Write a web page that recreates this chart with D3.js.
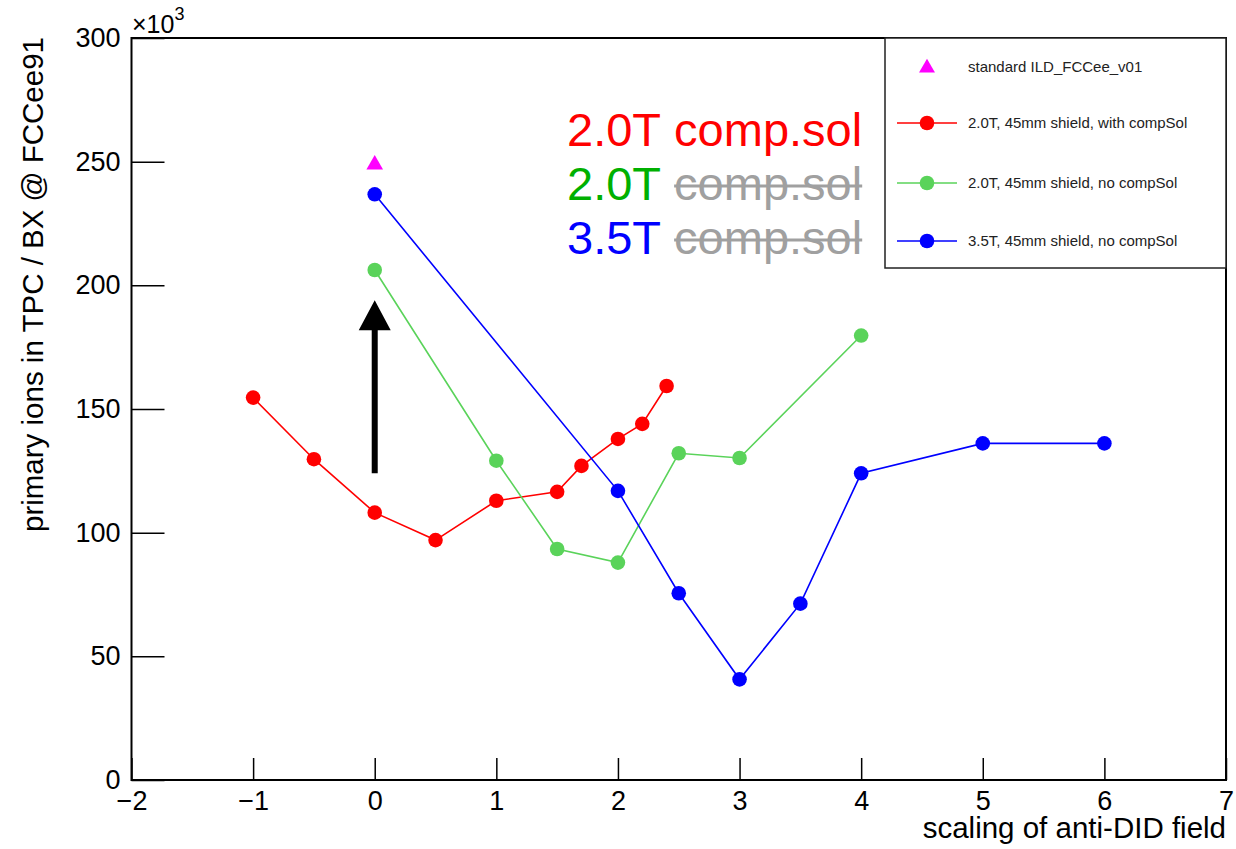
<!DOCTYPE html>
<html>
<head>
<meta charset="utf-8">
<script src="https://cdn.jsdelivr.net/npm/d3@7"></script>
<style>
  html, body { margin: 0; padding: 0; background: #fff; }
  svg text { font-family: "Liberation Sans", Arial, Helvetica, sans-serif; }
</style>
</head>
<body>
<svg id="chart" width="1236" height="849"></svg>
<script>
// ---------- data ----------
const redX   = [-1, -0.5, 0, 0.5, 1, 1.5, 1.7, 2, 2.2, 2.4];
const redY   = [154600, 129700, 108100, 97000, 112900, 116500, 127000, 137900, 144000, 159300];
const greenX = [0, 1, 1.5, 2, 2.5, 3, 4];
const greenY = [206200, 129100, 93400, 87900, 132100, 130200, 179700];
const blueX  = [0, 2, 2.5, 3, 3.5, 4, 5, 6];
const blueY  = [236800, 116900, 75500, 40700, 71300, 124000, 136100, 136100];
const stdX   = [0];
const stdY   = [249200];
const arrowX = [0, 0];          // from, to
const arrowY = [124000, 194000];

const xMajorTicks = [-2, -1, 0, 1, 2, 3, 4, 5, 6, 7];
const yMajorTicks = [0, 50000, 100000, 150000, 200000, 250000, 300000];

const legendLabels = [
  "standard ILD_FCCee_v01",
  "2.0T, 45mm shield, with compSol",
  "2.0T, 45mm shield, no compSol",
  "3.5T, 45mm shield, no compSol"
];
const annoFields = ["2.0T", "2.0T", "3.5T"];
const annoStruck = [false, true, true];

const xTitle = "scaling of anti-DID field";
const yTitle = "primary ions in TPC / BX @ FCCee91";

// ---------- setup ----------
const svg = d3.select("#chart");
const L = 131.5, R = 1226, T = 38, B = 780;
const x = d3.scaleLinear().domain([-2, 7]).range([L, R]);
const y = d3.scaleLinear().domain([0, 300000]).range([B, T]);

const C = { red: "#ff0000", green: "#5ad35a", blue: "#0000ff", mag: "#ff00ff" };

// ---------- axes ----------
const xMinor = d3.range(-2, 7.0001, 0.2).map(v => +v.toFixed(2));
const yMinor = d3.range(0, 300001, 10000);

const gx = svg.append("g").attr("transform", `translate(0,${B})`);
gx.call(d3.axisBottom(x).tickValues(xMinor).tickSize(-11).tickFormat(""));
gx.call(d3.axisBottom(x).tickValues(xMajorTicks).tickSize(-22).tickPadding(11)
  .tickFormat(d3.format("d")));
gx.selectAll(".domain").remove();
gx.selectAll("line").attr("stroke", "#000").attr("stroke-width", 1.5);
gx.selectAll("text").attr("font-size", 27).attr("fill", "#000")
  .style("font-family", '"Liberation Sans", Arial, sans-serif');

const gy = svg.append("g").attr("transform", `translate(${L},0)`);
gy.call(d3.axisLeft(y).tickValues(yMinor).tickSize(-16).tickFormat(""));
gy.call(d3.axisLeft(y).tickValues(yMajorTicks).tickSize(-33).tickPadding(11)
  .tickFormat(d => d3.format("d")(d / 1000)));
gy.selectAll(".domain").remove();
gy.selectAll("line").attr("stroke", "#000").attr("stroke-width", 1.5);
gy.selectAll("text").attr("font-size", 27).attr("fill", "#000")
  .style("font-family", '"Liberation Sans", Arial, sans-serif');

// frame
svg.append("rect").attr("x", L).attr("y", T).attr("width", R - L).attr("height", B - T)
  .attr("fill", "none").attr("stroke", "#000").attr("stroke-width", 2);

// x10^3
const mult = svg.append("text").attr("x", 132).attr("y", 33).attr("font-size", 25).attr("fill", "#000");
mult.append("tspan").text("×10");
mult.append("tspan").attr("font-size", 18).attr("dy", -13).text("3");

// axis titles
svg.append("text").attr("x", R).attr("y", 838).attr("text-anchor", "end")
  .attr("font-size", 29.5).attr("fill", "#000").text(xTitle);
svg.append("text").attr("transform", `translate(43,${T - 1}) rotate(-90)`)
  .attr("text-anchor", "end").attr("font-size", 29.5).attr("fill", "#000").text(yTitle);

// ---------- series ----------
function series(xs, ys, color) {
  const pts = xs.map((v, i) => [v, ys[i]]);
  svg.append("path").datum(pts)
    .attr("d", d3.line().x(d => x(d[0])).y(d => y(d[1])))
    .attr("fill", "none").attr("stroke", color).attr("stroke-width", 1.6);
  svg.append("g").selectAll("circle").data(pts).join("circle")
    .attr("cx", d => x(d[0])).attr("cy", d => y(d[1])).attr("r", 7.3)
    .attr("fill", color);
}
series(redX, redY, C.red);
series(greenX, greenY, C.green);
series(blueX, blueY, C.blue);

const tri = d3.symbol().type(d3.symbolTriangle).size(120);
svg.append("g").selectAll("path").data(stdX.map((v, i) => [v, stdY[i]])).join("path")
  .attr("d", tri).attr("transform", d => `translate(${x(d[0])},${y(d[1]) + 1})`)
  .attr("fill", C.mag);

// ---------- arrow ----------
{
  const ax = x(arrowX[0]), y0 = y(arrowY[0]), y1 = y(arrowY[1]);
  const hl = 30, hw = 16, sw = 3;
  const p = [[ax - sw, y0], [ax - sw, y1 + hl], [ax - hw, y1 + hl], [ax, y1],
             [ax + hw, y1 + hl], [ax + sw, y1 + hl], [ax + sw, y0]];
  svg.append("path").attr("d", "M" + p.map(q => q.join(",")).join("L") + "Z").attr("fill", "#000");
}

// ---------- annotation text ----------
const annoColors = [C.red, "#00b000", C.blue];
const FS = 47;
annoFields.forEach((f, i) => {
  const by = 146 + i * 54;
  const t = svg.append("text").attr("x", 567).attr("y", by).attr("font-size", FS)
    .attr("fill", annoColors[i]).text(f);
  const w = t.node().getComputedTextLength() + 0.278 * FS;
  const t2 = svg.append("text").attr("x", 567 + w).attr("y", by).attr("font-size", FS)
    .attr("fill", annoStruck[i] ? "#a0a0a0" : annoColors[i]).text("comp.sol");
  if (annoStruck[i]) {
    const w2 = t2.node().getComputedTextLength();
    svg.append("line").attr("x1", 567 + w).attr("x2", 567 + w + w2)
      .attr("y1", by - 14).attr("y2", by - 14).attr("stroke", "#a0a0a0").attr("stroke-width", 3);
  }
});

// ---------- legend ----------
const lg = svg.append("g");
lg.append("rect").attr("x", 885).attr("y", T).attr("width", R - 885).attr("height", 230)
  .attr("fill", "#fff").attr("stroke", "#222").attr("stroke-width", 1.5);
const rowY = [67, 123, 183, 241];
const legColors = [C.mag, C.red, C.green, C.blue];
legendLabels.forEach((lab, i) => {
  const cy = rowY[i];
  if (i === 0) {
    lg.append("path").attr("d", d3.symbol().type(d3.symbolTriangle).size(110))
      .attr("transform", `translate(927,${cy + 1})`).attr("fill", C.mag);
  } else {
    lg.append("line").attr("x1", 897).attr("x2", 957).attr("y1", cy).attr("y2", cy)
      .attr("stroke", legColors[i]).attr("stroke-width", 1.6);
    lg.append("circle").attr("cx", 927).attr("cy", cy).attr("r", 7.3).attr("fill", legColors[i]);
  }
  lg.append("text").attr("x", 968).attr("y", cy + 5).attr("font-size", 15)
    .attr("fill", "#222").text(lab);
});
</script>
</body>
</html>
